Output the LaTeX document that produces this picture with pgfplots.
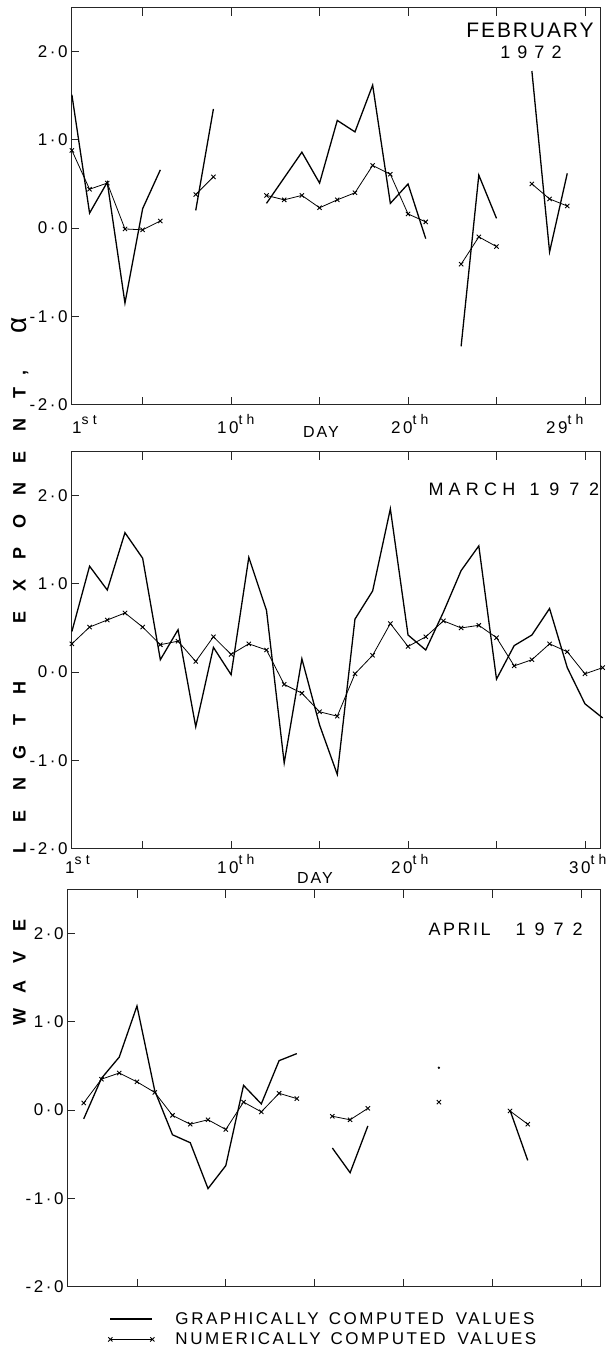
\documentclass[border=0pt]{standalone}
\usepackage{fontspec}
\setmainfont{Liberation Sans}
\newfontfamily\lab[LetterSpace=15]{Liberation Sans}
\usepackage{pgfplots}
\pgfplotsset{compat=1.18}

% spaced lettering: size, letter space, text
\newcommand\ls[3]{{\lab\fontsize{#1}{#1}\selectfont\addfontfeature{LetterSpace=#2}#3}}
\newcommand\sups[1]{\raisebox{9pt}{\ls{14}{30}{#1}}}
\newcommand\ord[2]{\ls{17}{15}{#1}\sups{#2}}

\pgfplotsset{
  panel/.style={
    scale only axis, height=397pt,
    anchor=north west,
    ymin=-2, ymax=2.5,
    ytick={-2,-1,0,1,2},
    yticklabels={-2·0,-1·0,0·0,1·0,2·0},
    yticklabel style={font=\lab\fontsize{17}{17}\selectfont},
    xtick={5,10,...,30}, xticklabels={},
    xtick pos=both, ytick pos=left,
    tick align=inside,
    major tick length=8pt,
    axis line style={line width=0.7pt, black!85},
    tick style={line width=0.7pt, black!85},
    unbounded coords=jump,
    clip=false,
  },
  graph/.style={black, line width=1.3pt, mark=none},
  numer/.style={black, line width=0.8pt, mark=x, mark size=3pt,
    mark options={solid, line width=0.9pt}},
}

\begin{document}
\begin{tikzpicture}
\useasboundingbox (0,0) rectangle (610pt,-1357pt);

% ---------------- FEBRUARY
\begin{axis}[panel, at={(71pt,-7.5pt)}, width=529pt, xmin=0.95, xmax=30.85]
\addplot[graph] coordinates {
 (1,1.51) (2,0.17) (3,0.52) (4,-0.85) (5,0.22) (6,0.66) (7,nan)
 (8,0.20) (9,1.35) (10,nan)
 (12,0.28) (13,0.57) (14,0.86) (15,0.51) (16,1.22) (17,1.09) (18,1.62)
 (19,0.28) (20,0.50) (21,-0.12) (22,nan)
 (23,-1.34) (24,0.60) (25,0.11) (26,nan)
 (27,1.78) (28,-0.27) (29,0.62)};
\addplot[numer] coordinates {
 (1,0.88) (2,0.44) (3,0.51) (4,-0.01) (5,-0.02) (6,0.08) (7,nan)
 (8,0.38) (9,0.58) (10,nan)
 (12,0.37) (13,0.32) (14,0.37) (15,0.23) (16,0.32) (17,0.40) (18,0.71)
 (19,0.61) (20,0.16) (21,0.07) (22,nan)
 (23,-0.41) (24,-0.10) (25,-0.21) (26,nan)
 (27,0.50) (28,0.33) (29,0.25)};
\end{axis}

% ---------------- MARCH
\begin{axis}[panel, at={(71pt,-451.5pt)}, width=529pt, xmin=0.95, xmax=30.85]
\addplot[graph] coordinates {
 (1,0.46) (2,1.20) (3,0.93) (4,1.58) (5,1.29) (6,0.14) (7,0.48) (8,-0.62)
 (9,0.28) (10,-0.03) (11,1.30) (12,0.70) (13,-1.03) (14,0.15) (15,-0.60)
 (16,-1.16) (17,0.60) (18,0.92) (19,1.85) (20,0.42) (21,0.25) (22,0.68)
 (23,1.15) (24,1.43) (25,-0.08) (26,0.30) (27,0.42) (28,0.72) (29,0.05)
 (30,-0.36) (31,-0.52)};
\addplot[numer] coordinates {
 (1,0.32) (2,0.51) (3,0.59) (4,0.67) (5,0.51) (6,0.31) (7,0.35) (8,0.12)
 (9,0.40) (10,0.20) (11,0.32) (12,0.25) (13,-0.14) (14,-0.24) (15,-0.45)
 (16,-0.50) (17,-0.02) (18,0.19) (19,0.55) (20,0.29) (21,0.40) (22,0.58)
 (23,0.50) (24,0.53) (25,0.39) (26,0.07) (27,0.14) (28,0.32) (29,0.23)
 (30,-0.02) (31,0.05)};
\end{axis}

% ---------------- APRIL
\begin{axis}[panel, at={(67pt,-889.5pt)}, width=533pt, xmin=1.06, xmax=31.07,
  legend style={at={(0.077,-0.062)}, anchor=north west, draw=none, fill=none,
    inner sep=0pt, row sep=5pt, column sep=20pt,
    nodes={inner sep=1pt, font=\lab\fontsize{17}{17}\selectfont}},
  legend cell align=left,
  legend image code/.code={\draw[#1] plot coordinates {(0pt,0pt) (42pt,0pt)};},
  ]
\addplot[graph] coordinates {
 (2,-0.10) (3,0.36) (4,0.60) (5,1.18) (6,0.22) (7,-0.28) (8,-0.37) (9,-0.89)
 (10,-0.63) (11,0.28) (12,0.07) (13,0.56) (14,0.64) (15,nan)
 (16,-0.43) (17,-0.71) (18,-0.18) (19,nan)
 (26,0.00) (27,-0.57)};
\addplot[numer] coordinates {
 (2,0.08) (3,0.35) (4,0.42) (5,0.32) (6,0.20) (7,-0.06) (8,-0.16) (9,-0.11)
 (10,-0.22) (11,0.09) (12,-0.02) (13,0.19) (14,0.13) (15,nan)
 (16,-0.07) (17,-0.11) (18,0.02) (19,nan)
 (22,0.09) (23,nan)
 (26,-0.01) (27,-0.16)};
\addplot[only marks, mark=*, mark size=1pt, black, forget plot] coordinates {(22,0.48)};
\legend{GRAPHICALLY\hspace{10pt}COMPUTED\hspace{12pt}VALUES,
        NUMERICALLY\hspace{10pt}COMPUTED\hspace{12pt}VALUES}
\end{axis}

% ---------------- titles
\node[anchor=base] at (530pt,-37pt) {\ls{21}{9}{FEBRUARY}};
\node[anchor=base] at (531pt,-58pt) {\ls{18}{39}{1972}};
\node[anchor=base west] at (425pt,-495pt) {\ls{18}{29}{MARCH}};
\node[anchor=base west] at (526pt,-495pt) {\ls{18}{55}{1972}};
\node[anchor=base west] at (425pt,-935pt) {\ls{18}{14}{APRIL}};
\node[anchor=base west] at (512pt,-935pt) {\ls{18}{50}{1972}};

% ---------------- day labels
\node[anchor=base west, inner sep=0pt] at (72pt,-433pt) {\ord{1}{st}};
\node[anchor=base west, inner sep=0pt] at (217pt,-433pt) {\ord{10}{th}};
\node[anchor=base west, inner sep=0pt] at (303pt,-437pt) {\ls{16}{12}{DAY}};
\node[anchor=base west, inner sep=0pt] at (391pt,-433pt) {\ord{20}{th}};
\node[anchor=base west, inner sep=0pt] at (546pt,-433pt) {\ord{29}{th}};

\node[anchor=base west, inner sep=0pt] at (65pt,-873pt) {\ord{1}{st}};
\node[anchor=base west, inner sep=0pt] at (217pt,-873pt) {\ord{10}{th}};
\node[anchor=base west, inner sep=0pt] at (297pt,-883pt) {\ls{16}{12}{DAY}};
\node[anchor=base west, inner sep=0pt] at (391pt,-873pt) {\ord{20}{th}};
\node[anchor=base west, inner sep=0pt] at (569pt,-873pt) {\ord{30}{th}};

% ---------------- vertical axis title, spaced letters
\foreach \c/\y in {W/1017, A/987, V/957, E/925,
                   L/848, E/816, N/784, G/752, T/720, H/688,
                   E/617, X/585, P/553, O/521, N/489, E/457, N/425, T/393}
  \node[rotate=90, anchor=base, inner sep=0pt,
        font=\fontsize{18}{18}\selectfont\bfseries] at (25.5pt,-\y pt) {\c};
\node[rotate=90, anchor=base, inner sep=0pt,
      font=\fontsize{18}{18}\selectfont\bfseries] at (25.5pt,-373pt) {,};
\node[rotate=90, anchor=base, inner sep=0pt,
      font=\fontsize{28}{28}\selectfont] at (27pt,-325pt) {α};
\end{tikzpicture}
\end{document}
